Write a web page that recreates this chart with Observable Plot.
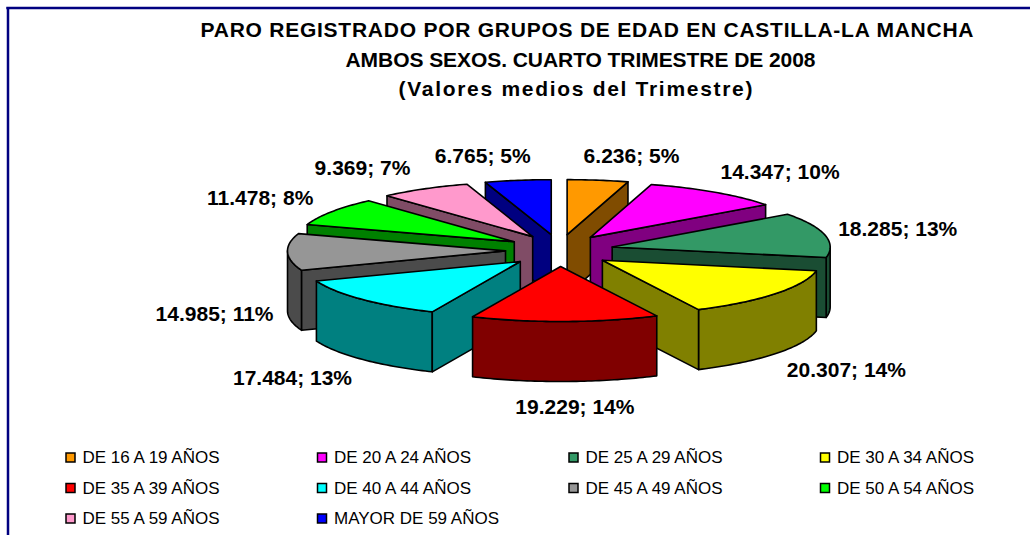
<!DOCTYPE html>
<html><head><meta charset="utf-8">
<script src="https://cdn.jsdelivr.net/npm/d3@7"></script>
<script src="https://cdn.jsdelivr.net/npm/@observablehq/plot@0.6"></script>
<style>
  html,body{margin:0;padding:0;background:#fff;}
  #chart svg{display:block;}
</style>
</head><body><div id="chart"></div>
<script>
// ---------- data ----------
const categories = ["DE 16 A 19 AÑOS","DE 20 A 24 AÑOS","DE 25 A 29 AÑOS","DE 30 A 34 AÑOS",
  "DE 35 A 39 AÑOS","DE 40 A 44 AÑOS","DE 45 A 49 AÑOS","DE 50 A 54 AÑOS",
  "DE 55 A 59 AÑOS","MAYOR DE 59 AÑOS"];
const values = [6236, 14347, 18285, 20307, 19229, 17484, 14985, 11478, 9369, 6765];
const percents = [5, 10, 13, 14, 14, 13, 11, 8, 7, 5];
const topColors = ["#FF9900","#FF00FF","#339966","#FFFF00","#FF0000","#00FFFF","#969696","#00FF00","#FF99CC","#0000FF"];
const sideColors = ["#804C00","#800080","#1A4D33","#808000","#800000","#008080","#4B4B4B","#008000","#804C66","#000080"];
const titleLines = ["PARO REGISTRADO POR GRUPOS DE EDAD EN CASTILLA-LA MANCHA",
  "AMBOS SEXOS. CUARTO TRIMESTRE DE 2008",
  "(Valores medios del Trimestre)"];

// ---------- layout / style constants ----------
const W = 1030, H = 535;
const cx = 559, cy = 250, rx = 218, ry = 55, depth = 60, ex = 54, ey = 16;
const font = "'Liberation Sans', Arial, Helvetica, sans-serif";

const es = d3.formatLocale({decimal: ",", thousands: ".", grouping: [3], currency: ["", "€"]});
const fmt = es.format(",d");

// ---------- geometry ----------
const arcs = d3.pie().sort(null).value(d => d)(values);
const polys = [];
arcs.forEach((a, i) => {
  const a0 = a.startAngle, a1 = a.endAngle, mid = (a0 + a1) / 2;
  const ax = cx + ex * Math.sin(mid), ay = cy - ey * Math.cos(mid);
  const pt = (t, dz = 0) => ({x: ax + rx * Math.sin(t), y: ay - ry * Math.cos(t) + dz});
  const arcPts = (s, e, dz = 0) => {
    const n = Math.max(2, Math.ceil(Math.abs(e - s) / (Math.PI / 180)));
    return d3.range(n + 1).map(k => pt(s + (e - s) * k / n, dz));
  };
  const apex = {x: ax, y: ay}, apexB = {x: ax, y: ay + depth};
  const list = [];
  const s = Math.max(a0, Math.PI / 2), e = Math.min(a1, 3 * Math.PI / 2);
  if (s < e) list.push({color: sideColors[i], pts: [...arcPts(s, e), ...arcPts(e, s, depth)]});
  if (Math.sin(a0) < -1e-6) { list.push({color: sideColors[i], pts: [apex, pt(a0), pt(a0, depth), apexB]}); }
  if (Math.sin(a1) > 1e-6) { list.push({color: sideColors[i], pts: [apex, pt(a1), pt(a1, depth), apexB]}); }
  list.push({color: topColors[i], pts: [apex, ...arcPts(a0, a1)]});
  list.forEach((p, k) => polys.push({...p, order: ay, slice: i, k}));
});
polys.sort((p, q) => d3.ascending(p.order, q.order) || d3.ascending(p.k, q.k));

// ---------- labels ----------
const labelData = arcs.map((a, i) => {
  const mid = (a.startAngle + a.endAngle) / 2;
  const s = Math.sin(mid), c = Math.cos(mid);
  return {
    text: `${fmt(values[i])}; ${percents[i]}%`,
    x: cx + Math.sign(s) * 345 * Math.pow(Math.abs(s), 0.8),
    y: cy - 95 * c + (c < 0 ? 62 : 0)
  };
});

// ---------- legend ----------
const legendData = categories.map((name, i) => ({
  name, color: topColors[i],
  sx: 66 + (i % 4) * 251.5,
  sy: 457.5 + Math.floor(i / 4) * 30.5
}));

// ---------- title ----------
const titleData = titleLines.map((t, i) => ({t, x: [586.5, 580, 575][i], y: 29.5 + i * 29.8}));
const titleWidths = [773, 470, 354];

const marks = [
  Plot.ruleX([7.5], {y1: 7, y2: H, stroke: "#000080", strokeWidth: 2.5}),
  Plot.ruleY([7.5], {x1: 6.3, x2: W, stroke: "#000080", strokeWidth: 2.5}),
  ...polys.map(p => Plot.line(p.pts, {x: "x", y: "y", curve: "linear-closed", fill: p.color,
    stroke: "#000", strokeWidth: 1.6, strokeLinejoin: "round"})),
  Plot.text(labelData, {x: "x", y: "y", text: "text", fontSize: 21, fontWeight: "bold",
    fontFamily: font, fill: "#000"}),
  Plot.text(titleData, {x: "x", y: "y", text: "t", fontSize: 21, fontWeight: "bold",
    fontFamily: font, fill: "#000"}),
  Plot.rect(legendData, {x1: d => d.sx, x2: d => d.sx + 9, y1: d => d.sy - 4.5, y2: d => d.sy + 4.5,
    fill: "color", stroke: "#000", strokeWidth: 1.5}),
  Plot.text(legendData, {x: d => d.sx + 16, y: "sy", text: "name", textAnchor: "start",
    fontSize: 17, fontFamily: font, fill: "#000"})
];

const chart = Plot.plot({
  width: W, height: H,
  margin: 0,
  x: {type: "linear", domain: [0, W], range: [0, W], axis: null},
  y: {type: "linear", domain: [0, H], range: [0, H], axis: null},
  color: {type: "identity"},
  style: {background: "#fff", fontFamily: font},
  marks
});

d3.select(chart).selectAll("text").each(function() {
  const idx = titleLines.indexOf(this.textContent);
  if (idx >= 0) {
    this.setAttribute("textLength", titleWidths[idx]);
    this.setAttribute("lengthAdjust", "spacing");
  }
});
document.getElementById("chart").appendChild(chart);
</script>
</body></html>
